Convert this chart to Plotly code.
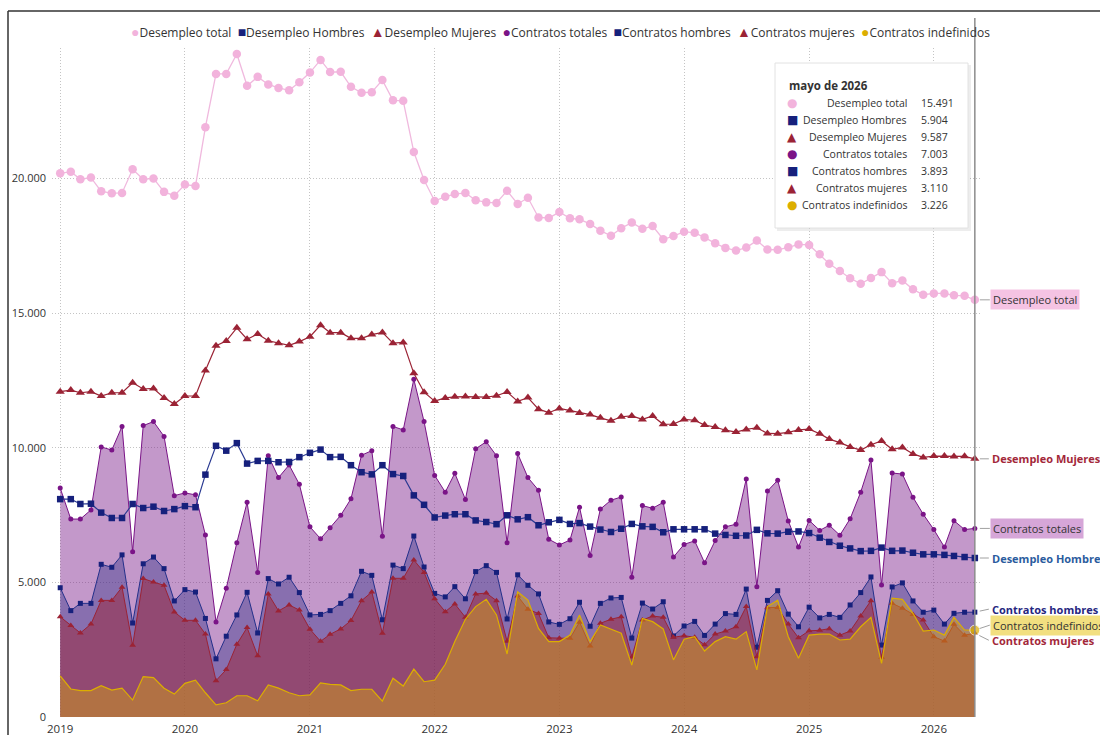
import plotly.graph_objects as go
import pandas as pd

# ---------------- data ----------------
meses = pd.date_range("2019-01-01", "2026-05-01", freq="MS")
meses_es = ["enero", "febrero", "marzo", "abril", "mayo", "junio", "julio",
            "agosto", "septiembre", "octubre", "noviembre", "diciembre"]

desempleo_total = [
    20190, 20250, 19970, 20030, 19520, 19450, 19460, 20340, 19970, 20000, 19500, 19360,
    19770, 19720, 21900, 23880, 23880, 24620, 23440, 23770, 23490, 23360, 23270, 23570,
    23930, 24400, 23950, 23960, 23400, 23180, 23200, 23650, 22900, 22880, 20980, 19940,
    19160, 19320, 19420, 19460, 19190, 19110, 19090, 19540, 19050, 19280, 18550, 18530,
    18750, 18520, 18480, 18310, 18060, 17870, 18150, 18360, 18130, 18230, 17740, 17860,
    18020, 17980, 17810, 17590, 17420, 17320, 17430, 17690, 17360, 17350, 17440, 17550,
    17530, 17180, 16830, 16560, 16290, 16090, 16300, 16520, 16110, 16210, 15880, 15680,
    15730, 15730, 15660, 15640, 15491]

desempleo_hombres = [
    8090, 8090, 7910, 7920, 7590, 7390, 7390, 7910, 7760, 7810, 7650, 7720,
    7830, 7790, 9000, 10070, 9890, 10170, 9410, 9510, 9510, 9460, 9470, 9650,
    9810, 9930, 9650, 9660, 9350, 9090, 9010, 9350, 9020, 8950, 8230, 7880,
    7410, 7480, 7530, 7530, 7300, 7240, 7160, 7490, 7340, 7420, 7120, 7230,
    7320, 7170, 7200, 7070, 6960, 6870, 6990, 7170, 7080, 7060, 6860, 6970,
    6970, 6970, 6970, 6810, 6760, 6730, 6740, 6950, 6820, 6810, 6880, 6890,
    6830, 6660, 6500, 6360, 6260, 6160, 6170, 6290, 6170, 6180, 6100, 6040,
    6040, 6020, 5980, 5940, 5904]

desempleo_mujeres = [
    12080, 12140, 12040, 12080, 11920, 12040, 12040, 12410, 12180, 12200, 11850, 11620,
    11920, 11920, 12870, 13790, 13960, 14450, 14030, 14220, 13970, 13880, 13800, 13940,
    14120, 14550, 14270, 14270, 14060, 14060, 14200, 14280, 13880, 13910, 12760, 12060,
    11730, 11850, 11890, 11900, 11880, 11880, 11930, 12070, 11720, 11860, 11430, 11300,
    11460, 11380, 11290, 11230, 11110, 11000, 11150, 11180, 11050, 11180, 10870, 10880,
    11050, 11020, 10840, 10770, 10650, 10580, 10680, 10740, 10530, 10520, 10570, 10660,
    10690, 10520, 10320, 10190, 10030, 9910, 10110, 10250, 9940, 10010, 9770, 9640,
    9690, 9690, 9670, 9680, 9587]

contratos_totales = [
    8500, 7350, 7350, 7690, 10030, 9910, 10790, 6140, 10820, 10970, 10420, 8220,
    8320, 8250, 6760, 3530, 4780, 6470, 7970, 5370, 9700, 8890, 9360, 8640,
    7060, 6620, 7030, 7490, 8100, 9720, 9890, 6710, 10790, 10660, 12540, 10970,
    8970, 8350, 9050, 8080, 9960, 10220, 9700, 6470, 9780, 8890, 8420, 6600,
    6390, 6570, 7790, 6000, 7720, 8050, 8170, 5190, 7850, 7750, 7970, 5940,
    6410, 6540, 5730, 6550, 7060, 7160, 8840, 4840, 8390, 8790, 7280, 6310,
    7300, 6930, 7120, 6750, 7360, 8350, 9540, 4900, 9060, 9020, 8160, 7530,
    6960, 6310, 7290, 6960, 7003]

contratos_hombres = [
    4800, 3950, 4220, 4220, 5670, 5560, 6020, 3490, 5690, 5940, 5510, 4310,
    4730, 4640, 3660, 2160, 3000, 3790, 4630, 3120, 5140, 4940, 5190, 4620,
    3790, 3810, 3950, 4220, 4500, 5410, 5260, 3610, 5640, 5510, 6720, 5570,
    4590, 4460, 4840, 4390, 5400, 5620, 5370, 3640, 5280, 4890, 4570, 3530,
    3440, 3650, 4260, 3370, 4220, 4420, 4440, 2930, 4230, 4010, 4280, 3010,
    3380, 3550, 3030, 3450, 3840, 3810, 4750, 2590, 4330, 4690, 3820, 3350,
    4080, 3680, 3810, 3700, 4160, 4620, 5200, 2670, 4830, 4980, 4310, 3890,
    3970, 3450, 3850, 3890, 3893]

contratos_mujeres = [
    3720, 3400, 3120, 3450, 4330, 4330, 4820, 2660, 5140, 5010, 4890, 3900,
    3590, 3590, 3080, 1350, 1760, 2700, 3320, 2270, 4570, 3940, 4160, 3970,
    3260, 2810, 3070, 3270, 3580, 4320, 4640, 3110, 5150, 5150, 5830, 5370,
    4390, 3910, 4200, 3700, 4570, 4600, 4320, 2810, 4490, 4000, 3840, 2940,
    2920, 2920, 3520, 2640, 3480, 3630, 3720, 2230, 3600, 3750, 3700, 2960,
    3020, 2960, 2680, 3080, 3190, 3350, 4100, 2240, 4060, 4070, 3450, 2940,
    3200, 3220, 3280, 3040, 3190, 3750, 4320, 2220, 4220, 4040, 3810, 3600,
    2980, 2820, 3440, 3040, 3110]

contratos_indefinidos = [
    1530, 1040, 980, 980, 1160, 1000, 1070, 630, 1500, 1460, 1070, 850,
    1250, 1370, 900, 450, 530, 790, 790, 600, 1190, 1070, 900, 790,
    820, 1270, 1210, 1190, 980, 1030, 1030, 590, 1440, 1150, 1780, 1310,
    1370, 1960, 2800, 3630, 4100, 4370, 3790, 2340, 4650, 4340, 3290, 2800,
    2800, 3040, 3790, 2800, 3420, 3260, 3110, 1930, 3660, 3540, 3270, 2120,
    2890, 2980, 2450, 2800, 2980, 2890, 3170, 1750, 4100, 4340, 2980, 2180,
    3040, 3080, 3080, 2860, 2890, 3350, 3700, 1990, 4410, 4370, 3850, 3190,
    3230, 3040, 3700, 3230, 3226]

# ---------------- layout geometry (page pixels) ----------------
W, H = 1100, 735
L, R, T, B = 52, 982, 48, 717
PX_PER_1000 = 26.93


def px(x):
    return (x - L) / (R - L)


def py(y):
    return (B - y) / (B - T)


YMAX = (B - T) / PX_PER_1000 * 1000

PINK = "#f2b3dc"
PINK_LINE = "#f0b9de"
NAVY = "#16207c"
RED = "#9b2335"
PURPLE = "#7a1487"
GOLD = "#dcae00"
FONT = "Open Sans"
GRID = "#c4c4c4"

fig = go.Figure()
n = len(meses)

# area series (overlaid, not stacked)
fig.add_trace(go.Scatter(
    x=meses, y=contratos_totales, name="Contratos totales", mode="lines+markers",
    line=dict(color=PURPLE, width=1), marker=dict(symbol="circle", size=5, color=PURPLE),
    fill="tozeroy", fillcolor="rgba(123,26,138,0.45)"))
fig.add_trace(go.Scatter(
    x=meses, y=contratos_hombres, name="Contratos hombres", mode="lines+markers",
    line=dict(color="#24308a", width=1), marker=dict(symbol="square", size=5, color=NAVY),
    fill="tozeroy", fillcolor="rgba(26,35,126,0.35)"))
fig.add_trace(go.Scatter(
    x=meses, y=contratos_mujeres, name="Contratos mujeres", mode="lines+markers",
    line=dict(color=RED, width=1), marker=dict(symbol="triangle-up", size=6, color=RED),
    fill="tozeroy", fillcolor="rgba(155,35,53,0.5)"))
fig.add_trace(go.Scatter(
    x=meses, y=contratos_indefinidos, name="Contratos indefinidos", mode="lines+markers",
    line=dict(color=GOLD, width=1.2),
    marker=dict(symbol="circle", size=[0] * (n - 1) + [10], color=GOLD),
    fill="tozeroy", fillcolor="rgba(224,176,0,0.4)"))

# line series
fig.add_trace(go.Scatter(
    x=meses, y=desempleo_total, name="Desempleo total", mode="lines+markers",
    line=dict(color=PINK_LINE, width=1.3), marker=dict(symbol="circle", size=8.5, color=PINK)))
fig.add_trace(go.Scatter(
    x=meses, y=desempleo_hombres, name="Desempleo Hombres", mode="lines+markers",
    line=dict(color="#2a3a92", width=1.2), marker=dict(symbol="square", size=6.5, color=NAVY)))
fig.add_trace(go.Scatter(
    x=meses, y=desempleo_mujeres, name="Desempleo Mujeres", mode="lines+markers",
    line=dict(color=RED, width=1.2), marker=dict(symbol="triangle-up", size=8, color=RED)))

annotations = []
shapes = []

# ---------- legend (built as text) ----------
legend_items = [
    ("●", PINK, "Desempleo total"),
    ("■", NAVY, "Desempleo Hombres"),
    ("▲", RED, "Desempleo Mujeres"),
    ("●", PURPLE, "Contratos totales"),
    ("■", NAVY, "Contratos hombres"),
    ("▲", RED, "Contratos mujeres"),
    ("●", GOLD, "Contratos indefinidos"),
]
legend_txt = "  ".join(
    f"<span style='color:{c};font-size:14px'>{s}</span>{t}" for s, c, t in legend_items)
annotations.append(dict(
    xref="paper", yref="paper", x=px(560), y=py(31), xanchor="center", yanchor="middle",
    text=legend_txt, showarrow=False, font=dict(family=FONT, size=12, color="#333")))

# ---------- cursor line at last month ----------
shapes.append(dict(type="line", xref="x", yref="paper", x0=meses[-1], x1=meses[-1],
                   y0=0, y1=py(18), line=dict(color="#8c8c8c", width=1.5), layer="above"))

# ---------- right-side labels ----------
right_labels = [
    (desempleo_total[-1], "Desempleo total", 0, "#333", "#f5c3e3", False),
    (desempleo_mujeres[-1], "Desempleo Mujeres", 0, "#a3283a", None, True),
    (contratos_totales[-1], "Contratos totales", 0, "#333", "#d6a6d8", False),
    (desempleo_hombres[-1], "Desempleo Hombres", 0, "#2b5c9e", None, True),
    (contratos_hombres[-1], "Contratos hombres", -3, "#262680", None, True),
    (contratos_indefinidos[-1], "Contratos indefinidos", -5, "#333", "#f2df80", False),
    (contratos_mujeres[-1], "Contratos mujeres", 7, "#a3283a", None, True),
]
for val, txt, ay, col, bg, bold in right_labels:
    a = dict(x=meses[-1], y=val, xref="x", yref="y",
             text=f"<b>{txt}</b>" if bold else txt,
             showarrow=True, arrowhead=0, arrowwidth=1, arrowcolor="#a0a0a0",
             ax=15 if bg else 14, ay=ay, xanchor="left", yanchor="middle", standoff=5,
             font=dict(family=FONT, size=11, color=col), borderpad=2)
    if bg:
        a["bgcolor"] = bg
    annotations.append(a)

# ---------- tooltip box ----------
shapes.append(dict(type="rect", xref="paper", yref="paper",
                   x0=px(777), x1=px(971), y0=py(231), y1=py(65),
                   fillcolor="rgba(0,0,0,0.07)", line=dict(width=0), layer="above"))
shapes.append(dict(type="rect", xref="paper", yref="paper",
                   x0=px(775), x1=px(968), y0=py(228), y1=py(63),
                   fillcolor="white", line=dict(color="#e2e2e2", width=1), layer="above"))
ultimo = meses[-1]
annotations.append(dict(
    xref="paper", yref="paper", x=px(787), y=py(85), xanchor="left", yanchor="middle",
    text=f"<b>{meses_es[ultimo.month - 1]} de {ultimo.year}</b>", showarrow=False,
    font=dict(family=FONT, size=11.5, color="#333")))
tooltip_rows = [
    ("●", PINK, "Desempleo total", desempleo_total[-1]),
    ("■", NAVY, "Desempleo Hombres", desempleo_hombres[-1]),
    ("▲", RED, "Desempleo Mujeres", desempleo_mujeres[-1]),
    ("●", PURPLE, "Contratos totales", contratos_totales[-1]),
    ("■", NAVY, "Contratos hombres", contratos_hombres[-1]),
    ("▲", RED, "Contratos mujeres", contratos_mujeres[-1]),
    ("●", GOLD, "Contratos indefinidos", contratos_indefinidos[-1]),
]
for i, (sym, col, lab, val) in enumerate(tooltip_rows):
    yy = py(103 + 17 * i)
    annotations.append(dict(xref="paper", yref="paper", x=px(792), y=yy, xanchor="center",
                            yanchor="middle", text=sym, showarrow=False,
                            font=dict(family="DejaVu Sans", size=12, color=col)))
    annotations.append(dict(xref="paper", yref="paper", x=px(909), y=yy, xanchor="right",
                            yanchor="middle", text=lab, showarrow=False,
                            font=dict(family=FONT, size=10.5, color="#333")))
    annotations.append(dict(xref="paper", yref="paper", x=px(919), y=yy, xanchor="left",
                            yanchor="middle", text=f"{val:,}".replace(",", "."),
                            showarrow=False, font=dict(family=FONT, size=10.5, color="#333")))

# ---------- page frame lines (top / left) ----------
shapes.append(dict(type="line", xref="paper", yref="paper", x0=px(8), x1=px(1100),
                   y0=py(11), y1=py(11), line=dict(color="#333", width=1.5)))
shapes.append(dict(type="line", xref="paper", yref="paper", x0=px(8), x1=px(8),
                   y0=py(11), y1=py(735), line=dict(color="#333", width=1.5)))

fig.update_layout(
    width=W, height=H,
    margin=dict(l=L, r=W - R, t=T, b=H - B, pad=0, autoexpand=False),
    paper_bgcolor="white", plot_bgcolor="white",
    separators=",.",
    font=dict(family=FONT, size=12, color="#333"),
    showlegend=False,
    annotations=annotations, shapes=shapes,
    hovermode=False,
)
fig.update_xaxes(
    type="date", range=["2018-12-08", "2026-05-22"], automargin=False,
    tick0="2019-01-01", dtick="M12", tickformat="%Y",
    showgrid=True, gridcolor=GRID, griddash="1px,2px", gridwidth=1,
    zeroline=False, showline=False, ticks="", ticklabelstandoff=3,
    tickfont=dict(family=FONT, size=11.5, color="#333"),
)
fig.update_yaxes(
    range=[0, YMAX], tickvals=[0, 5000, 10000, 15000, 20000], tickformat=",d",
    automargin=False,
    showgrid=True, gridcolor=GRID, griddash="1px,2px", gridwidth=1,
    zeroline=False, showline=False, ticks="", ticklabelstandoff=5,
    tickfont=dict(family=FONT, size=11, color="#333"),
)

fig.write_html(
    "out.html",
    config={"displayModeBar": False},
    post_script="document.body.style.margin='0';document.body.style.padding='0';"
                "document.body.style.overflow='hidden';",
)
